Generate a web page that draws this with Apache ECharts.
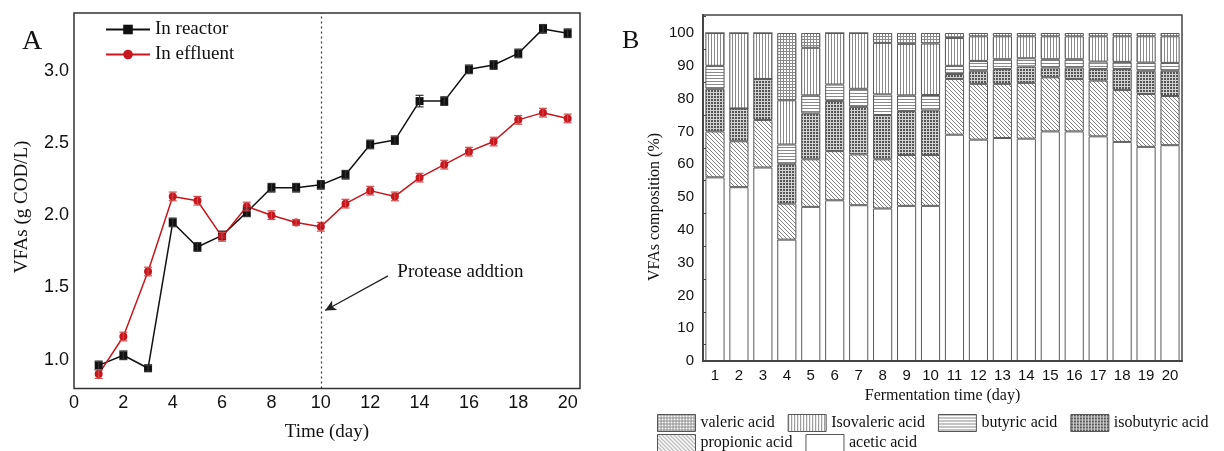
<!DOCTYPE html>
<html>
<head>
<meta charset="utf-8">
<title>VFAs</title>
<script src="https://cdn.jsdelivr.net/npm/echarts@6/dist/echarts.min.js"></script>
<style>
  html, body { margin: 0; padding: 0; background: #fff; }
  #main { width: 1224px; height: 451px; }
</style>
</head>
<body>
<div id="main"></div>
<script>
// ---- A: VFAs (g COD/L) over time ----
const days = [1, 2, 3, 4, 5, 6, 7, 8, 9, 10, 11, 12, 13, 14, 15, 16, 17, 18, 19, 20]
const reactor = [0.96, 1.03, 0.94, 1.95, 1.78, 1.86, 2.02, 2.19, 2.19, 2.21, 2.28, 2.49, 2.52, 2.79, 2.79, 3.01, 3.04, 3.12, 3.29, 3.26]
const reactorErr = [0.03, 0.03, 0.02, 0.03, 0.03, 0.03, 0.03, 0.03, 0.03, 0.03, 0.03, 0.03, 0.03, 0.04, 0.03, 0.03, 0.03, 0.03, 0.03, 0.03]
const effluent = [0.90, 1.16, 1.61, 2.13, 2.10, 1.85, 2.06, 2.00, 1.95, 1.92, 2.08, 2.17, 2.13, 2.26, 2.35, 2.44, 2.51, 2.66, 2.71, 2.67]
const effluentErr = [0.03, 0.03, 0.03, 0.03, 0.03, 0.03, 0.03, 0.03, 0.02, 0.03, 0.03, 0.03, 0.03, 0.03, 0.03, 0.03, 0.03, 0.03, 0.03, 0.03]
const xTicksA = [0, 2, 4, 6, 8, 10, 12, 14, 16, 18, 20]
const yTicksA = [1.0, 1.5, 2.0, 2.5, 3.0]
const proteaseDay = 10
// annotation anchors, in [day, value]
const noteAt = [13.1, 1.61]
const arrowFrom = [12.72, 1.58]
const arrowTo = [10.17, 1.34]

// ---- B: VFAs composition (%) ----
const dayLabels = ['1', '2', '3', '4', '5', '6', '7', '8', '9', '10', '11', '12', '13', '14', '15', '16', '17', '18', '19', '20']
const acetic = [56, 53, 59, 37, 47, 49, 47.5, 46.5, 47.3, 47.3, 69, 67.5, 68, 67.8, 70, 70, 68.5, 66.8, 65.3, 65.8]
const propionic = [14, 14, 14.5, 11, 14.5, 15, 15.5, 15, 15.5, 15.5, 17, 17, 16.5, 17, 16.5, 16, 17, 15.8, 16.1, 15]
const isobutyric = [13, 10, 12.5, 12, 14, 15.3, 14.5, 13.5, 13.4, 13.6, 1.5, 4, 4.5, 5, 3, 3.5, 3.5, 6.4, 7.1, 7.7]
const butyric = [7, 0, 0, 6, 5.5, 5, 5.5, 6.3, 4.8, 4.7, 2.5, 3, 3, 2.5, 2.5, 2.5, 2.3, 2.2, 2.5, 2.4]
const isovaleric = [10, 23, 14, 13.5, 14.5, 15.7, 17, 15.7, 15.7, 15.7, 8.5, 7.5, 7, 6.7, 7, 7, 7.7, 7.8, 8, 8.1]
const valeric = [0, 0, 0, 20.5, 4.5, 0, 0, 3, 3.3, 3.2, 1.5, 1, 1, 1, 1, 1, 1, 1, 1, 1]

const SERIF = 'Liberation Serif, Times New Roman, serif'
const SANS = 'Liberation Sans, Arial, sans-serif'

// small canvas tiles used as hatch fills
function pattern(size, bg, draw) {
    const c = document.createElement('canvas')
    c.width = size
    c.height = size
    const ctx = c.getContext('2d')
    ctx.fillStyle = bg
    ctx.fillRect(0, 0, size, size)
    draw(ctx, size)
    return { image: c, repeat: 'repeat' }
}
const fills = {
    valeric: pattern(3, '#fff', (ctx, s) => { ctx.fillStyle = '#8a8a8a'; ctx.fillRect(0, 0, s, 1); ctx.fillRect(0, 0, 1, s) }),
    isovaleric: pattern(3, '#fff', (ctx, s) => { ctx.fillStyle = '#8a8a8a'; ctx.fillRect(0, 0, 1, s) }),
    butyric: pattern(3, '#fff', (ctx, s) => { ctx.fillStyle = '#8a8a8a'; ctx.fillRect(0, 0, s, 1) }),
    isobutyric: pattern(3, '#d2d2d2', (ctx) => { ctx.fillStyle = '#555'; ctx.fillRect(0, 0, 2, 2) }),
    propionic: pattern(4, '#fff', (ctx, s) => { ctx.fillStyle = '#808080'; for (let i = 0; i < s; i++) ctx.fillRect(i, i, 1, 1) }),
    acetic: '#fff'
}

const near = (list, v) => list.some(t => Math.abs(t - v) < 1e-6)

// error bars as a custom series
function errorSeries(name, vals, errs, color) {
    return {
        type: 'custom',
        name: name + ' err',
        xAxisIndex: 0,
        yAxisIndex: 0,
        z: 4,
        silent: true,
        data: days.map((d, i) => [d, vals[i] - errs[i], vals[i] + errs[i]]),
        renderItem: (params, api) => {
            const lo = api.coord([api.value(0), api.value(1)])
            const hi = api.coord([api.value(0), api.value(2)])
            const w = 4
            const st = { stroke: color, lineWidth: 1.2 }
            return {
                type: 'group',
                children: [
                    { type: 'line', shape: { x1: lo[0], y1: lo[1], x2: hi[0], y2: hi[1] }, style: st },
                    { type: 'line', shape: { x1: lo[0] - w, y1: lo[1], x2: lo[0] + w, y2: lo[1] }, style: st },
                    { type: 'line', shape: { x1: hi[0] - w, y1: hi[1], x2: hi[0] + w, y2: hi[1] }, style: st }
                ]
            }
        }
    }
}

function barSeries(name, vals, fill) {
    return {
        type: 'bar',
        name: name,
        stack: 'vfa',
        xAxisIndex: 1,
        yAxisIndex: 1,
        barWidth: '80%',
        data: vals,
        itemStyle: { color: fill, borderColor: '#5a5a5a', borderWidth: 1 },
        emphasis: { disabled: true }
    }
}

const chart = echarts.init(document.getElementById('main'))

const legendB = {
    padding: 0, icon: 'rect', itemWidth: 38, itemHeight: 17, itemGap: 13,
    itemStyle: { borderColor: '#555', borderWidth: 1 },
    textStyle: { fontFamily: SERIF, fontSize: 16, color: '#111' }
}

const option = {
    animation: false,
    backgroundColor: '#fff',
    grid: [
        { left: 74, top: 13, width: 506, height: 375.5, show: true, borderColor: '#333', borderWidth: 1.5 },
        { left: 703, top: 15, width: 479, height: 346, show: true, borderColor: '#444', borderWidth: 1.5 }
    ],
    xAxis: [
        {
            type: 'value', gridIndex: 0, min: 0, max: 20.5, interval: 2,
            splitLine: { show: false }, axisTick: { show: false }, axisLine: { show: false },
            axisLabel: {
                fontSize: 18, fontFamily: SANS, color: '#111', margin: 6,
                formatter: v => near(xTicksA, v) ? String(v) : ''
            },
            name: 'Time (day)', nameLocation: 'middle', nameGap: 34,
            nameTextStyle: { fontFamily: SERIF, fontSize: 19, color: '#111' }
        },
        {
            type: 'category', gridIndex: 1, data: dayLabels, z: 5,
            axisLine: { lineStyle: { color: '#444', width: 2 } },
            axisTick: { inside: true, alignWithLabel: true, length: 5, lineStyle: { color: '#444' } },
            axisLabel: { fontSize: 15, fontFamily: SANS, color: '#111', margin: 7 },
            name: 'Fermentation time (day)', nameLocation: 'middle', nameGap: 26,
            nameTextStyle: { fontFamily: SERIF, fontSize: 16, color: '#111' }
        }
    ],
    yAxis: [
        {
            type: 'value', gridIndex: 0, min: 0.8, max: 3.4, interval: 0.1,
            splitLine: { show: false }, axisTick: { show: false }, axisLine: { show: false },
            axisLabel: {
                fontSize: 18, fontFamily: SANS, color: '#111', margin: 5,
                formatter: v => near(yTicksA, v) ? v.toFixed(1) : ''
            }
        },
        {
            type: 'value', gridIndex: 1, min: 0, max: 105.5, interval: 10, z: 5,
            splitLine: { show: false },
            axisLine: { show: true, lineStyle: { color: '#444', width: 2 } },
            axisTick: { inside: true, length: 5, lineStyle: { color: '#444' } },
            minorTick: { show: true, splitNumber: 2, length: 3, lineStyle: { color: '#444' } },
            axisLabel: {
                fontSize: 15, fontFamily: SANS, color: '#111', margin: 9,
                formatter: v => v <= 100 ? String(v) : ''
            }
        }
    ],
    legend: [
        {
            data: ['In reactor', 'In effluent'], padding: 0,
            orient: 'vertical', left: 105, top: 20, itemWidth: 44, itemHeight: 12, itemGap: 6,
            textStyle: { fontFamily: SERIF, fontSize: 19, color: '#111' }
        },
        Object.assign({ data: ['valeric acid', 'Isovaleric acid', 'butyric acid', 'isobutyric acid'], left: 657, top: 414 }, legendB),
        Object.assign({ data: ['propionic acid', 'acetic acid'], left: 657, top: 434 }, legendB)
    ],
    graphic: [
        { type: 'text', left: 22, top: 28, style: { text: 'A', fontSize: 28, fontFamily: SERIF, fill: '#111' } },
        { type: 'text', left: 622, top: 28, style: { text: 'B', fontSize: 26, fontFamily: SERIF, fill: '#111' } },
        {
            type: 'text', x: 22, y: 207, rotation: Math.PI / 2,
            style: { text: 'VFAs (g COD/L)', fontSize: 19, fontFamily: SERIF, fill: '#111', align: 'center', verticalAlign: 'middle' }
        },
        {
            type: 'text', x: 655, y: 207, rotation: Math.PI / 2,
            style: { text: 'VFAs composition (%)', fontSize: 16, fontFamily: SERIF, fill: '#111', align: 'center', verticalAlign: 'middle' }
        }
    ],
    series: [
        {
            type: 'line', name: 'In reactor', xAxisIndex: 0, yAxisIndex: 0, z: 3,
            data: days.map((d, i) => [d, reactor[i]]),
            symbol: 'rect', symbolSize: 8,
            lineStyle: { color: '#111', width: 1.5 },
            itemStyle: { color: '#111' },
            markLine: {
                silent: true, symbol: 'none', label: { show: false },
                lineStyle: { type: [2, 3], color: '#333', width: 1.2 },
                data: [{ xAxis: proteaseDay }]
            }
        },
        {
            type: 'line', name: 'In effluent', xAxisIndex: 0, yAxisIndex: 0, z: 3,
            data: days.map((d, i) => [d, effluent[i]]),
            symbol: 'circle', symbolSize: 8,
            lineStyle: { color: '#c8161d', width: 1.5 },
            itemStyle: { color: '#c8161d' },
            markLine: {
                silent: true, symbol: ['none', 'arrow'], symbolSize: [8, 11], label: { show: false },
                lineStyle: { type: 'solid', color: '#222', width: 1.3 },
                data: [[{ coord: arrowFrom }, { coord: arrowTo }]]
            },
            markPoint: {
                silent: true, symbol: 'circle', symbolSize: 0,
                label: {
                    show: true, position: 'right', distance: 0,
                    formatter: 'Protease addtion', fontFamily: SERIF, fontSize: 19, color: '#111'
                },
                data: [{ coord: noteAt }]
            }
        },
        errorSeries('In reactor', reactor, reactorErr, '#333'),
        errorSeries('In effluent', effluent, effluentErr, '#d04848'),
        barSeries('acetic acid', acetic, fills.acetic),
        barSeries('propionic acid', propionic, fills.propionic),
        barSeries('isobutyric acid', isobutyric, fills.isobutyric),
        barSeries('butyric acid', butyric, fills.butyric),
        barSeries('Isovaleric acid', isovaleric, fills.isovaleric),
        barSeries('valeric acid', valeric, fills.valeric)
    ]
}

chart.setOption(option)
</script>
</body>
</html>
